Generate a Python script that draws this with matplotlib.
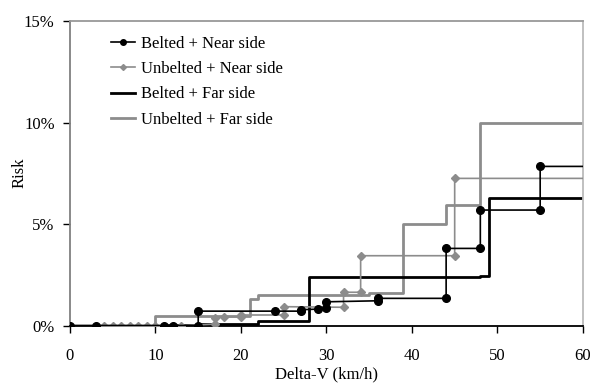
import matplotlib.pyplot as plt
from matplotlib.ticker import FuncFormatter

plt.rcParams['font.family'] = 'Liberation Serif'
plt.rcParams['font.size'] = 12

# risk in %, delta-v in km/h
bn_x = [0, 3, 11, 12, 15, 15, 24, 27, 27, 29, 30, 30, 36, 36, 44, 44, 48, 48, 55, 55]
bn_y = [0, 0, 0, 0, 0, 0.71, 0.71, 0.71, 0.78, 0.81, 0.85, 1.17, 1.22, 1.34, 1.34, 3.8, 3.8, 5.69, 5.69, 7.84]

un_x = [0, 4, 5, 6, 7, 8, 9, 10, 13, 17, 17, 18, 20, 20, 25, 25, 32, 32, 34, 34, 45, 45]
un_y = [0, 0, 0, 0, 0, 0, 0, 0, 0, 0.07, 0.35, 0.43, 0.43, 0.52, 0.52, 0.93, 0.9, 1.64, 1.64, 3.44, 3.44, 7.25]

bf_x = [0, 11, 11, 15, 15, 22, 22, 28, 28, 48, 48, 49, 49, 60]
bf_y = [0, 0, 0.05, 0.05, 0.1, 0.1, 0.2, 0.2, 2.4, 2.4, 2.45, 2.45, 6.3, 6.3]

uf_x = [0, 10, 10, 21, 21, 22, 22, 35, 35, 39, 39, 44, 44, 48, 48, 60]
uf_y = [0, 0, 0.48, 0.48, 1.29, 1.29, 1.52, 1.52, 1.6, 1.6, 5.0, 5.0, 5.93, 5.93, 10.0, 10.0]

labels = ['Belted + Near side', 'Unbelted + Near side', 'Belted + Far side', 'Unbelted + Far side']

fig = plt.figure(figsize=(5.93, 3.83), dpi=100)
ax = fig.add_axes([0.118, 0.150, 0.865, 0.795])

l1, = ax.plot(bn_x + [60], bn_y + [bn_y[-1]], color='black', lw=1.2, zorder=4)
m1, = ax.plot(bn_x, bn_y, 'o', color='black', ms=5.5, zorder=5)
l2, = ax.plot(un_x + [60], un_y + [un_y[-1]], color='#8c8c8c', lw=1.2, zorder=3)
m2, = ax.plot(un_x, un_y, 'D', color='#8c8c8c', ms=4, zorder=3)
l3, = ax.plot(bf_x, bf_y, color='black', lw=2, zorder=2)
l4, = ax.plot(uf_x, uf_y, color='#8c8c8c', lw=2, zorder=1)

h1, = ax.plot([], [], '-o', color='black', lw=1.2, ms=4)
h2, = ax.plot([], [], '-D', color='#8c8c8c', lw=1.2, ms=3)
ax.legend([h1, h2, l3, l4], labels, loc='upper left', frameon=False,
          bbox_to_anchor=(0.188, 0.906), bbox_transform=fig.transFigure,
          borderpad=0, borderaxespad=0, handlelength=1.4, handletextpad=0.4,
          labelspacing=0.55)

ax.set_xlim(0, 60)
ax.set_ylim(0, 15)
ax.set_xticks([0, 10, 20, 30, 40, 50, 60])
ax.set_yticks([0, 5, 10, 15])
ax.yaxis.set_major_formatter(FuncFormatter(lambda v, p: '%d%%' % v))
ax.tick_params(axis='x', direction='out', length=5, pad=11, width=1)
ax.tick_params(axis='y', direction='out', length=5, pad=6, width=1)

ax.spines['left'].set_color('#808080')
ax.spines['top'].set_color('#999999')
ax.spines['right'].set_color('#bbbbbb')
ax.spines['bottom'].set_color('black')
for s in ax.spines.values():
    s.set_linewidth(1.3)

ax.set_xlabel('Delta-V (km/h)', labelpad=2)
fig.text(20 / 593, 1 - 173 / 383, 'Risk', rotation=90, ha='center', va='center')

fig.savefig('out.png', dpi=100)
